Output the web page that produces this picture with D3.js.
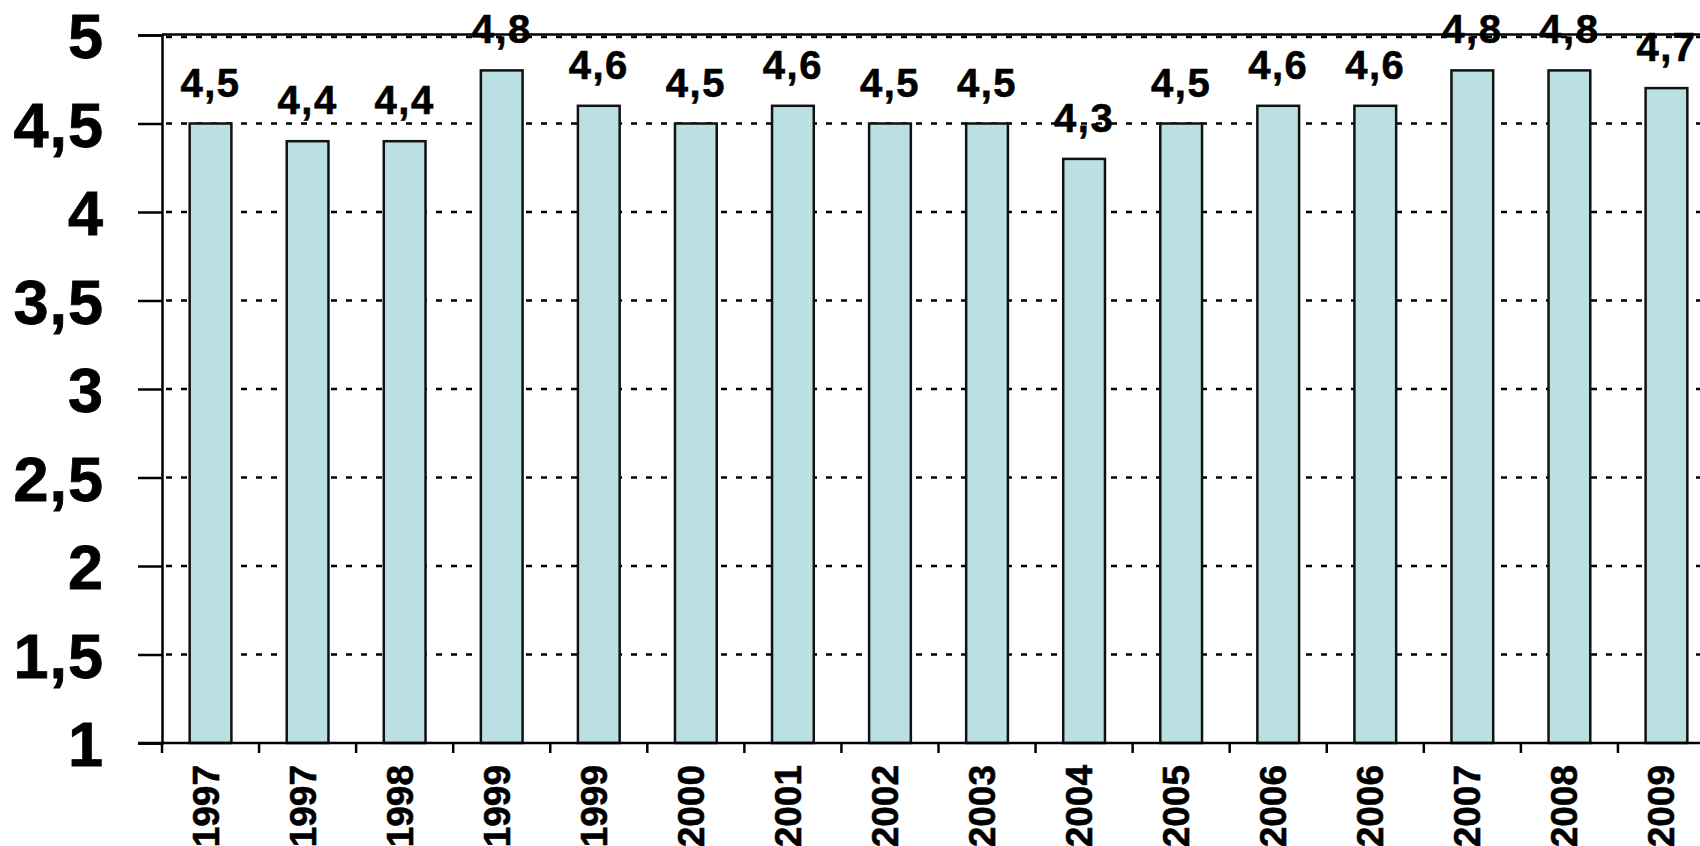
<!DOCTYPE html>
<html>
<head>
<meta charset="utf-8">
<script src="https://cdn.jsdelivr.net/npm/d3@7"></script>
<style>
  body { margin: 0; background: #fff; overflow: hidden; }
  svg { display: block; font-family: "Liberation Sans", Arial, sans-serif; font-weight: bold; }
</style>
</head>
<body>
<div class="chart"></div>
<script>
// categories and values
const years = ["1997", "1997", "1998", "1999", "1999", "2000", "2001", "2002",
               "2003", "2004", "2005", "2006", "2006", "2007", "2008", "2009"];
const values = [4.5, 4.4, 4.4, 4.8, 4.6, 4.5, 4.6, 4.5, 4.5, 4.3, 4.5, 4.6, 4.6, 4.8, 4.8, 4.7];
const yTicks = [1, 1.5, 2, 2.5, 3, 3.5, 4, 4.5, 5];

const width = 1700;
const height = 846;
const margin = { top: 35, left: 162, bottom: 103 };
const plotRight = 1715;

let svg = d3.select("div.chart")
    .append("svg")
    .attr("width", width)
    .attr("height", height);

let data = years.map((y, i) => ({ key: i, year: y, value: values[i] }));

let x = d3.scaleBand()
    .domain(data.map(d => d.key))
    .range([margin.left, plotRight])
    .paddingInner(0.57)
    .paddingOuter(0.285);

let y = d3.scaleLinear()
    .domain([1, 5])
    .range([height - margin.bottom, margin.top]);

const fmt = v => String(v).replace(".", ",");

// dotted gridlines
svg.append("g")
    .selectAll("line")
    .data(yTicks.slice(1))
    .enter()
    .append("line")
    .attr("x1", margin.left)
    .attr("x2", plotRight)
    .attr("y1", d => y(d) + (d === 5 ? 2 : 0))
    .attr("y2", d => y(d) + (d === 5 ? 2 : 0))
    .attr("stroke", "#000")
    .attr("stroke-width", 2.5)
    .attr("stroke-dasharray", "6,9")
    .attr("stroke-dashoffset", -4);

// solid line along the top
svg.append("line")
    .attr("x1", margin.left)
    .attr("x2", width)
    .attr("y1", y(5) - 0.5)
    .attr("y2", y(5) - 0.5)
    .attr("stroke", "#000")
    .attr("stroke-width", 2.5);

// bars
svg.append("g")
    .selectAll("rect")
    .data(data)
    .enter()
    .append("rect")
    .attr("x", d => x(d.key))
    .attr("y", d => y(d.value))
    .attr("width", x.bandwidth())
    .attr("height", d => y(1) - y(d.value))
    .attr("fill", "#bbe0e3")
    .attr("stroke", "#111")
    .attr("stroke-width", 2.5);

// value labels
svg.append("g")
    .selectAll("text")
    .data(data)
    .enter()
    .append("text")
    .attr("x", d => x(d.key) + x.bandwidth() / 2)
    .attr("y", d => y(d.value) - 27)
    .attr("text-anchor", "middle")
    .attr("font-size", 40)
    .attr("letter-spacing", 1.5)
    .attr("stroke", "#000")
    .attr("stroke-width", 0.6)
    .text(d => fmt(d.value));

// y axis
let yAxis = svg.append("g")
    .attr("transform", `translate(${margin.left},0)`)
    .call(d3.axisLeft(y).tickValues(yTicks).tickFormat(fmt).tickSize(24).tickPadding(34));
yAxis.select(".domain").attr("stroke-width", 2.5);
yAxis.selectAll(".tick line").attr("stroke-width", 2.5);
yAxis.selectAll(".tick text")
    .attr("font-size", 63)
    .attr("font-family", "Liberation Sans, Arial, sans-serif")
    .attr("font-weight", "bold")
    .attr("letter-spacing", 1)
    .attr("dy", "0.36em")
    .attr("fill", "#000")
    .attr("stroke", "#000")
    .attr("stroke-width", 0.8);

// x axis line
svg.append("line")
    .attr("x1", margin.left - 24)
    .attr("x2", width)
    .attr("y1", y(1))
    .attr("y2", y(1))
    .attr("stroke", "#000")
    .attr("stroke-width", 2.5);

// tick marks between the categories
svg.append("g")
    .selectAll("line")
    .data(data)
    .enter()
    .append("line")
    .attr("x1", d => x(d.key) - x.step() * x.paddingInner() / 2)
    .attr("x2", d => x(d.key) - x.step() * x.paddingInner() / 2)
    .attr("y1", y(1))
    .attr("y2", y(1) + 10)
    .attr("stroke", "#000")
    .attr("stroke-width", 2.5);

// rotated category labels
svg.append("g")
    .selectAll("text")
    .data(data)
    .enter()
    .append("text")
    .attr("transform", d => `translate(${x(d.key) + x.bandwidth() / 2 + 8},${y(1) + 22}) rotate(-90)`)
    .attr("text-anchor", "end")
    .attr("font-size", 37)
    .attr("stroke", "#000")
    .attr("stroke-width", 0.6)
    .text(d => d.year);
</script>
</body>
</html>
